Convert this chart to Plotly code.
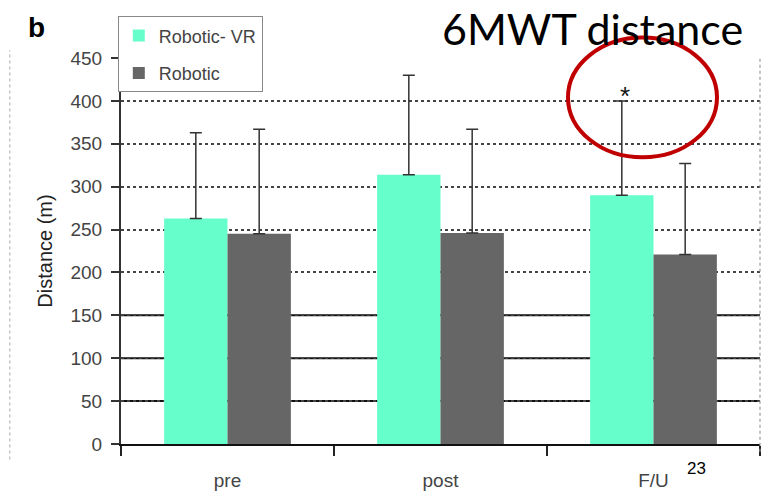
import plotly.graph_objects as go

# Six-minute walk test distance by assessment and group
timepoints = ["pre", "post", "F/U"]
robotic_vr = [263, 314, 290]
robotic = [245, 246, 221]
robotic_vr_sd = [100, 116, 110]
robotic_sd = [122, 121, 106]

y_ticks = [0, 50, 100, 150, 200, 250, 300, 350, 400, 450]
solid_grid = [50, 100, 150]

VR_COLOR = "#66FFCC"
R_COLOR = "#666666"
TICK_FONT = dict(family="Liberation Sans, Arial, sans-serif", size=19, color="#444444")

fig = go.Figure()
fig.add_trace(go.Bar(
    name="Robotic- VR", x=timepoints, y=robotic_vr, marker_color=VR_COLOR,
    marker_line_width=0, legendgroup="a",
    error_y=dict(type="data", array=robotic_vr_sd, arrayminus=[0] * 3, symmetric=False,
                 color="#333333", thickness=1.5, width=6),
))
fig.add_trace(go.Bar(
    name="Robotic", x=timepoints, y=robotic, marker_color=R_COLOR,
    marker_line_width=0, legendgroup="b",
    error_y=dict(type="data", array=robotic_sd, arrayminus=[0] * 3, symmetric=False,
                 color="#333333", thickness=1.5, width=6),
))

# solid reference lines in the lower part of the plot
for v in solid_grid:
    fig.add_hline(y=v, line=dict(color="#111111", width=2), layer="below")

fig.update_layout(
    width=769, height=491,
    margin=dict(l=121, r=9, t=58, b=47),
    paper_bgcolor="white", plot_bgcolor="white",
    barmode="group", bargap=0.405, bargroupgap=0,
    showlegend=True,
    legend=dict(
        x=-0.005, y=1.108, xanchor="left", yanchor="top",
        bgcolor="white", bordercolor="#888888", borderwidth=1,
        font=dict(family="Liberation Sans, Arial, sans-serif", size=18, color="#444444"),
        tracegroupgap=11, itemwidth=30,
    ),
    xaxis=dict(
        range=[-0.5, 2.5], tickson="boundaries", ticks="outside", ticklen=10,
        tickwidth=2, tickcolor="#222222", showline=True, linecolor="#111111",
        linewidth=2, showgrid=False, tickfont=TICK_FONT, ticklabelstandoff=18,
        automargin=False,
    ),
    yaxis=dict(
        range=[0, 450], tickvals=y_ticks, ticks="outside", ticklen=8,
        tickwidth=1.5, tickcolor="#333333", showline=True, linecolor="#333333",
        linewidth=2, showgrid=True, gridcolor="#444444", gridwidth=1.5,
        griddash="dot", zeroline=False, tickfont=TICK_FONT, ticklabelstandoff=5,
        automargin=False,
        title=dict(text="Distance (m)", standoff=12,
                   font=dict(family="Liberation Sans, Arial, sans-serif", size=20,
                             color="#222222")),
    ),
)

# frame lines of the original chart area
fig.add_shape(type="line", xref="paper", yref="paper", x0=1, x1=1, y0=-0.02, y1=1.0,
              line=dict(color="#999999", width=1.2, dash="dot"))
fig.add_shape(type="line", xref="paper", yref="paper", x0=-0.174, x1=-0.174, y0=-0.04, y1=1.02,
              line=dict(color="#aaaaaa", width=1, dash="dot"))

# significance marker and highlight ring
fig.add_annotation(x=2 - 0.149, y=robotic_vr[2] + robotic_vr_sd[2], text="*",
                   showarrow=False, yanchor="bottom", xshift=3, yshift=-12,
                   font=dict(family="Liberation Sans, Arial", size=26, color="#111111"))
fig.add_shape(type="circle", xref="paper", yref="paper",
              x0=0.6995, x1=0.9327, y0=0.7428, y1=1.053,
              line=dict(color="#C00000", width=4))

fig.add_annotation(xref="paper", yref="paper", x=0.977, y=1.147, text="6MWT distance",
                   showarrow=False, xanchor="right", yanchor="top",
                   font=dict(family="Lato, sans-serif", size=43, color="#000000"))
fig.add_annotation(xref="paper", yref="paper", x=-0.132, y=1.078, text="<b>b</b>",
                   showarrow=False, xanchor="center", yanchor="middle",
                   font=dict(family="Liberation Sans, Arial", size=28, color="#000000"))
fig.add_annotation(xref="paper", yref="paper", x=0.9, y=-0.063, text="23",
                   showarrow=False, xanchor="center", yanchor="middle",
                   font=dict(family="Liberation Sans, Arial", size=17, color="#000000"))

fig.write_html("out.html")
